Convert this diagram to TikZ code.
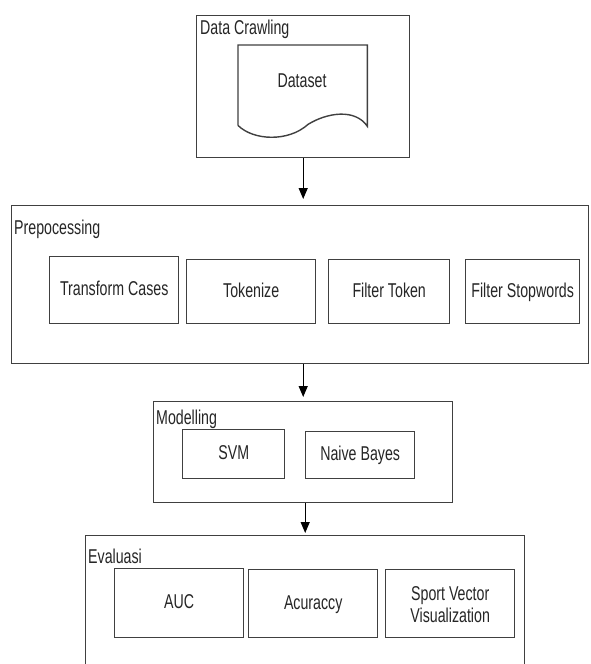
\documentclass[tikz,border=0pt]{standalone}
\usepackage{fontspec}
\setmainfont{Liberation Sans}[FakeStretch=0.71]
\usetikzlibrary{arrows.meta,calc}
\begin{document}
\begin{tikzpicture}[x=1pt,y=-1pt,
  every node/.style={font=\fontsize{20}{22}\selectfont, text=black!85},
  frame/.style 2 args={draw=black!75, line width=1.4pt, anchor=north west, inner sep=0pt, minimum width=#1pt, minimum height=#2pt},
  box/.style 2 args={draw=black!75, line width=1.4pt, anchor=north west, inner sep=0pt, align=center, text height=14.5pt, text depth=3.5pt, minimum width=#1pt, minimum height=#2pt},
  lbl/.style={anchor=base west, inner sep=0pt},
  docline/.style={draw=black!75, line width=1.4pt},
  flow/.style={draw=black, line width=1.2pt, -{Triangle[length=11pt,width=9pt]}}]
\clip (0,0) rectangle (590,664);
\fill[white] (0,0) rectangle (590,664);
% containers
\node[frame={213}{142}] (crawl) at (196,15) {};
\node[frame={577}{158}] (prep) at (11,205) {};
\node[frame={299}{101}] (model) at (153,401) {};
\node[frame={439}{160}] (eval) at (85,535) {};
% labels
\node[lbl] (lcrawl) at (200,34) {Data Crawling};
\node[lbl] (lprep) at (14,234) {Prepocessing};
\node[lbl] (lmodel) at (156,424) {Modelling};
\node[lbl] (leval) at (88,563) {Evaluasi};
% document shape
\node[anchor=north west, inner sep=0pt, minimum width=129pt, minimum height=81pt] (doc) at (238,45) {};
\draw[docline] (doc.south west) ++(0,-1) -- (doc.north west) -- (doc.north east) -- (doc.south east)
  .. controls ($(doc.south east)+(-12,-18)$) and ($(doc.south east)+(-40,-14)$) .. ($(doc.south west)+(70,-2)$)
  .. controls ($(doc.south west)+(50,16)$) and ($(doc.south west)+(15,14)$) .. ($(doc.south west)+(0,-1)$);
\node[anchor=base, inner sep=0pt] (dstxt) at (302,87) {Dataset};
% preprocessing steps
\node[box={129}{67}] (tc) at (49,256) {Transform Cases};
\node[box={129}{64}] (tok) at (186,259) {Tokenize};
\node[box={121}{64}] (ft) at (328,259) {Filter Token};
\node[box={114}{64}] (fs) at (465,259) {Filter Stopwords};
% modelling
\node[box={102}{49}] (svm) at (182,429) {SVM};
\node[box={109}{47}] (nb) at (305,431) {Naive Bayes};
% evaluation
\node[box={129}{69}] (auc) at (114,568) {AUC};
\node[box={129}{68}] (acc) at (248,569) {Acuraccy};
\node[box={129}{68}] (svv) at (385,569) {};
\node[align=center, inner sep=0pt] (svvtxt) at ($(svv.center)+(0,1)$) {Sport Vector\\Visualization};
% arrows
\draw[flow, shorten >=6pt] (crawl.south) -- (crawl.south |- prep.north);
\draw[flow, shorten >=4pt] (model.north |- prep.south) -- (model.north);
\draw[flow, shorten >=2pt] (eval.north |- model.south) -- (eval.north);
\end{tikzpicture}
\end{document}
